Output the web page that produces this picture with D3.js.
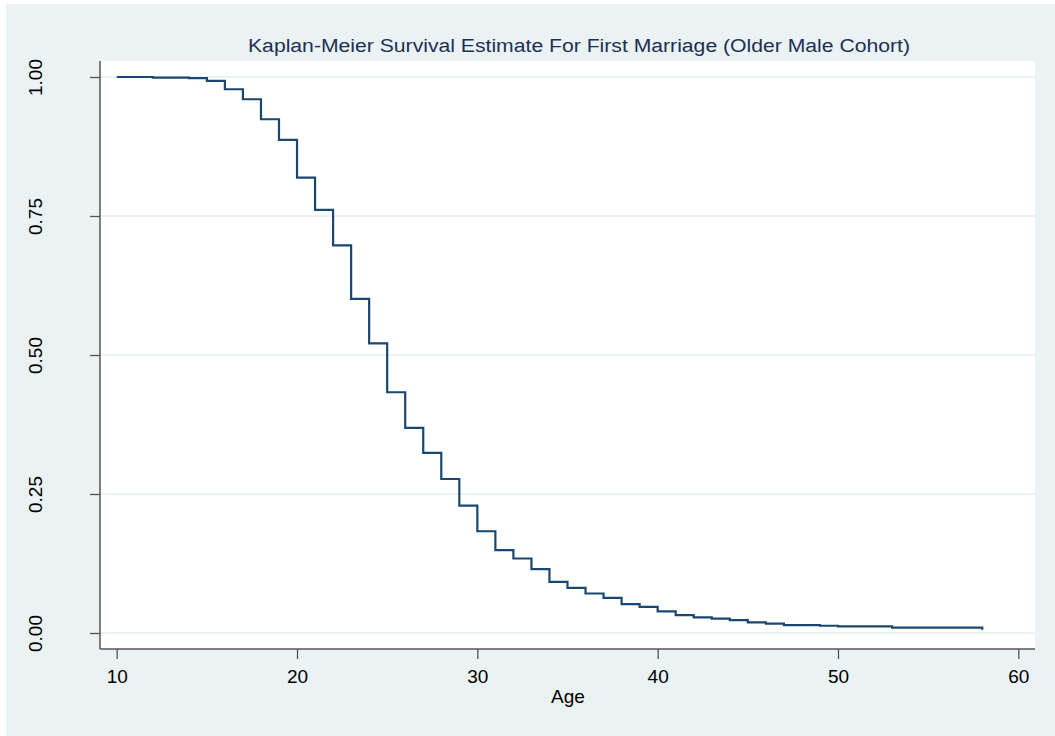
<!DOCTYPE html>
<html>
<head>
<meta charset="utf-8">
<script src="https://cdn.jsdelivr.net/npm/d3@7"></script>
<style>
  body { margin: 0; background: #ffffff; }
  text { font-family: "Liberation Sans", Arial, sans-serif; }
</style>
</head>
<body>
<div id="chart"></div>
<script>
// Kaplan-Meier step data (age, survival)
var ages = [10, 12, 14, 15, 16, 17, 18, 19, 20, 21, 22, 23, 24, 25, 26, 27, 28, 29, 30,
            31, 32, 33, 34, 35, 36, 37, 38, 39, 40, 41, 42, 43, 44, 45, 46, 47, 49, 50, 53, 58];
var survival = [1.000, 0.999, 0.998, 0.993, 0.978, 0.960, 0.924, 0.887, 0.819, 0.761, 0.697,
                0.601, 0.521, 0.433, 0.369, 0.324, 0.277, 0.229, 0.183, 0.149, 0.134, 0.115,
                0.092, 0.081, 0.071, 0.063, 0.052, 0.047, 0.039, 0.032, 0.028, 0.026, 0.023,
                0.019, 0.017, 0.014, 0.013, 0.012, 0.0095, 0.006];
var xTicks = [10, 20, 30, 40, 50, 60];
var yTicks = [0, 0.25, 0.5, 0.75, 1];
var title = "Kaplan-Meier Survival Estimate For First Marriage (Older Male Cohort)";
var xLabel = "Age";

let width = 1055;
let height = 736;
var plot = {left: 100, right: 1035, top: 61, bottom: 649};

var data = ages.map(function(a, i) { return {age: a, s: survival[i]}; });

var svg = d3.select("#chart").append("svg")
    .attr("width", width)
    .attr("height", height);

// outer graph region
svg.append("rect")
    .attr("x", 6).attr("y", 4)
    .attr("width", width - 6).attr("height", height - 4)
    .attr("fill", "#eaf2f3");

// plot region
svg.append("rect")
    .attr("x", plot.left).attr("y", plot.top)
    .attr("width", plot.right - plot.left).attr("height", plot.bottom - plot.top)
    .attr("fill", "#ffffff");

var xScale = d3.scaleLinear().domain([10, 60]).range([116.7, 1018.3]);
var yScale = d3.scaleLinear().domain([0, 1]).range([633, 77]);

// gridlines
svg.selectAll("line.grid")
    .data(yTicks)
    .enter().append("line")
    .attr("class", "grid")
    .attr("x1", plot.left).attr("x2", plot.right)
    .attr("y1", function(d) { return yScale(d); })
    .attr("y2", function(d) { return yScale(d); })
    .attr("stroke", "#eaf2f3")
    .attr("stroke-width", 2);

// y axis
var yAxis = d3.axisLeft(yScale)
    .tickValues(yTicks)
    .tickSize(10)
    .tickPadding(0)
    .tickFormat(d3.format(".2f"));

var gy = svg.append("g")
    .attr("transform", "translate(" + plot.left + ",0)")
    .call(yAxis);
gy.select(".domain").remove();
gy.selectAll(".tick line").attr("stroke", "#555555").attr("stroke-width", 1.3);
gy.selectAll(".tick text")
    .attr("x", 0).attr("dy", 0)
    .attr("transform", "translate(-58,0) rotate(-90)")
    .attr("text-anchor", "middle")
    .attr("fill", "#000")
    .style("font-size", "19px");
gy.append("line")
    .attr("x1", 0).attr("x2", 0)
    .attr("y1", plot.top).attr("y2", plot.bottom)
    .attr("stroke", "#555555").attr("stroke-width", 1.5);

// x axis
var xAxis = d3.axisBottom(xScale)
    .tickValues(xTicks)
    .tickSize(10)
    .tickPadding(0);

var gx = svg.append("g")
    .attr("transform", "translate(0," + plot.bottom + ")")
    .call(xAxis);
gx.select(".domain").remove();
gx.selectAll(".tick line").attr("stroke", "#555555").attr("stroke-width", 1.3);
gx.selectAll(".tick text")
    .attr("y", 34).attr("dy", 0)
    .attr("fill", "#000")
    .style("font-size", "19px");
gx.append("line")
    .attr("x1", plot.left).attr("x2", plot.right)
    .attr("y1", 0).attr("y2", 0)
    .attr("stroke", "#555555").attr("stroke-width", 1.5);

// survival step line
var line = d3.line()
    .x(function(d) { return xScale(d.age); })
    .y(function(d) { return yScale(d.s); })
    .curve(d3.curveStepAfter);

svg.append("path")
    .datum(data)
    .attr("d", line)
    .attr("fill", "none")
    .attr("stroke", "#1a476f")
    .attr("stroke-width", 2.2);

// title and axis label
svg.append("text")
    .attr("x", 579).attr("y", 52)
    .attr("text-anchor", "middle")
    .attr("fill", "#1e2f55")
    .attr("textLength", 662)
    .attr("lengthAdjust", "spacingAndGlyphs")
    .style("font-size", "18px")
    .text(title);

svg.append("text")
    .attr("x", 568).attr("y", 703)
    .attr("text-anchor", "middle")
    .attr("fill", "#000")
    .style("font-size", "19px")
    .text(xLabel);
</script>
</body>
</html>
